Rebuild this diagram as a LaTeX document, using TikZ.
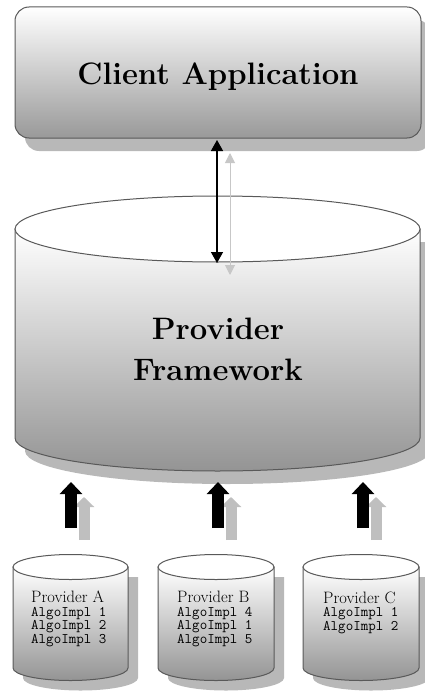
\documentclass[tikz,border=0pt]{standalone}
\usepackage{fontspec}
\usetikzlibrary{arrows.meta}
\newcommand\drawcyl[6]{% #1 cx, #2 rx, #3 ytop, #4 ybot, #5 ry, #6 shadow dy
  \fill[shad] (#1-#2+10,#3+#6) -- (#1-#2+10,#4+#6)
     arc[start angle=180,end angle=360,x radius=#2pt,y radius=#5pt]
     -- (#1+#2+10,#3+#6) -- cycle;
  \draw[outl, top color=white, bottom color=black!42] (#1-#2,#3) -- (#1-#2,#4)
     arc[start angle=180,end angle=360,x radius=#2pt,y radius=#5pt]
     -- (#1+#2,#3) -- cycle;
  \draw[outl, fill=white] (#1,#3) ellipse[x radius=#2pt,y radius=#5pt];
}
\begin{document}
\begin{tikzpicture}[x=1pt,y=-1pt,
  outl/.style={draw=black!65, line width=1pt},
  shad/.style={fill=black!28},
  bigfont/.style={font=\fontsize{31}{41}\selectfont\bfseries},
  provtxt/.style={anchor=base west, align=left, inner sep=0pt,
     font=\fontsize{14.6}{13.5}\selectfont\ttfamily},
  blk/.style={line width=12pt, draw=black, -{Triangle[width=22pt,length=12pt]}},
  blkshadow/.style={line width=11pt, draw=black!25, -{Triangle[width=20pt,length=10pt]}},
  dbl/.style={line width=1.5pt, draw=black, {Triangle[width=12pt,length=11pt]}-{Triangle[width=12pt,length=11pt]}},
  dblshadow/.style={line width=1pt, draw=black!22, {Triangle[width=10pt,length=10pt]}-{Triangle[width=10pt,length=10pt]}},
]
\useasboundingbox (0,0) rectangle (425,698);

% Client application box
\fill[shad, rounded corners=14pt] (25,20) rectangle (431,151);
\node[outl, rounded corners=14pt, minimum width=406pt, minimum height=131pt,
      top color=white, bottom color=black!40, inner sep=0pt] (client) at (218,72.5) {};
\node[bigfont, anchor=base] (clienttxt) at (218,85) {Client Application};

% Provider framework cylinder
\drawcyl{217.5}{202.5}{229}{438}{33}{13}
\node[bigfont, anchor=base, align=center] (fw) at (218,380) {Provider\\Framework};

% Provider cylinders
\drawcyl{70.5}{57.5}{567}{668}{12.5}{10}
\drawcyl{216}{58}{567}{668}{12.5}{10}
\drawcyl{361}{58}{567}{668}{12.5}{10}
\node[provtxt] (pa) at (31,643) {{\fontsize{16.5}{13.5}\selectfont\rmfamily Provider A}\\AlgoImpl 1\\AlgoImpl 2\\AlgoImpl 3};
\node[provtxt] (pb) at (177,643) {{\fontsize{16.5}{13.5}\selectfont\rmfamily Provider B}\\AlgoImpl 4\\AlgoImpl 1\\AlgoImpl 5};
\node[provtxt] (pc) at (323,630) {{\fontsize{16.5}{13.5}\selectfont\rmfamily Provider C}\\AlgoImpl 1\\AlgoImpl 2};

% connector end points
\coordinate (ct) at (217,140);
\coordinate (fb) at (217,263);
\coordinate (ct2) at (230,153);
\coordinate (fb2) at (230,275);
\coordinate (aS) at (71,528);  \coordinate (aT) at (71,482);
\coordinate (bS) at (218,528); \coordinate (bT) at (218,482);
\coordinate (cS) at (363,528); \coordinate (cT) at (363,482);
\coordinate (aS2) at (84,540);  \coordinate (aT2) at (84,497);
\coordinate (bS2) at (231,540); \coordinate (bT2) at (231,497);
\coordinate (cS2) at (376,540); \coordinate (cT2) at (376,497);

% connectors
\draw[dblshadow] (ct2) -- (fb2);
\draw[dbl] (ct) -- (fb);
\draw[blkshadow] (aS2) -- (aT2);
\draw[blkshadow] (bS2) -- (bT2);
\draw[blkshadow] (cS2) -- (cT2);
\draw[blk] (aS) -- (aT);
\draw[blk] (bS) -- (bT);
\draw[blk] (cS) -- (cT);
\end{tikzpicture}
\end{document}
